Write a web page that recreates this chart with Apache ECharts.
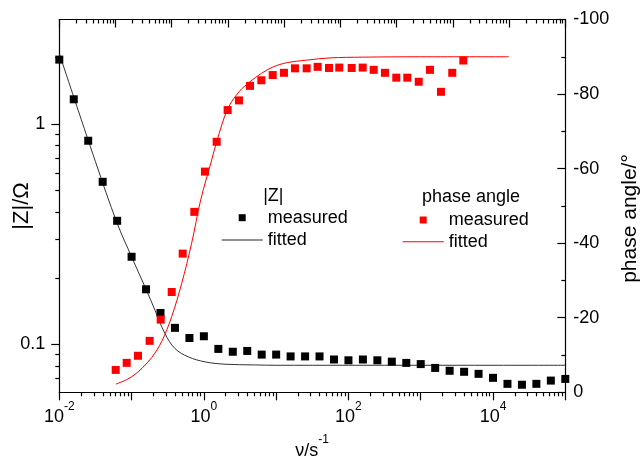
<!DOCTYPE html>
<html>
<head>
<meta charset="utf-8">
<script src="https://cdn.jsdelivr.net/npm/echarts@6/dist/echarts.min.js"></script>
<style>
  html, body { margin: 0; padding: 0; background: #fff; }
  #chart { width: 644px; height: 459px; }
</style>
</head>
<body>
<div id="chart"></div>
<script>
// Impedance magnitude |Z| (Ω) versus frequency ν (s^-1)
const freqZ = [0.01, 0.01585, 0.02512, 0.03981, 0.0631, 0.1, 0.1585, 0.2512, 0.3981, 0.631,
  1, 1.585, 2.512, 3.981, 6.31, 10, 15.85, 25.12, 39.81, 63.1,
  100, 158.5, 251.2, 398.1, 631, 1000, 1585, 2512, 3981, 6310,
  10000, 15850, 25120, 39810, 63100, 100000];
const zMeasured = [1.96, 1.295, 0.84, 0.547, 0.364, 0.25, 0.178, 0.139, 0.119, 0.107,
  0.109, 0.0955, 0.0927, 0.0935, 0.090, 0.090, 0.0883, 0.0883, 0.0883, 0.0855,
  0.0848, 0.0855, 0.0848, 0.0836, 0.0825, 0.0815, 0.0783, 0.076, 0.0752, 0.0736,
  0.0706, 0.0663, 0.0657, 0.0663, 0.0686, 0.0698];

const freqZFit = [0.01, 0.0316, 0.0631, 0.1, 0.1585, 0.211, 0.29, 0.398, 0.608, 1.04, 1.96, 5.0, 10, 100, 1000, 10000, 100000];
const zFitted = [2.09, 0.676, 0.355, 0.25, 0.178, 0.143, 0.112, 0.0959, 0.0879, 0.0834, 0.0814, 0.0808, 0.0805, 0.0805, 0.0805, 0.0805, 0.0805];

// Phase angle (°) versus frequency
const freqPhase = [0.0603, 0.0855, 0.1227, 0.1778, 0.2529, 0.3589, 0.5093, 0.7379, 1.035, 1.503,
  2.133, 3.062, 4.345, 6.237, 8.954, 12.82, 18.20, 26.42, 37.50, 53.83,
  74.65, 110.9, 157.4, 223.4, 319.9, 459.2, 651.6, 937.6, 1343, 1905,
  2729, 3882];
const phaseMeasured = [-6.0, -7.9, -9.8, -13.8, -19.5, -26.9, -37.2, -48.4, -59.2, -67.2,
  -75.7, -78.3, -82.2, -83.7, -85.1, -85.7, -86.9, -86.9, -87.3, -87.0,
  -87.1, -87.0, -87.1, -86.5, -85.7, -84.4, -84.4, -83.3, -86.5, -80.6,
  -85.7, -89.0];

const freqPhaseFit = [0.0608, 0.0855, 0.1114, 0.1413, 0.1897, 0.2606, 0.3589, 0.4932, 0.6776, 0.9036,
  1.282, 1.503, 2.133, 3.062, 4.345, 6.31, 9.12, 14.0, 26.4, 55.6, 158.5, 1000, 16480];
const phaseFitted = [-2.2, -3.4, -4.8, -6.6, -9.3, -13.6, -20.3, -29.2, -40.0, -51.6,
  -62.3, -67.2, -76.0, -80.6, -83.3, -85.6, -87.3, -88.4, -89.1, -89.7, -89.9, -90.0, -90.0];

// Axis ranges and labelled ticks
const freqMin = 0.01, freqMax = 100000;
const topMin = 0.0001, topMax = 100000;
const zMin = 0.0607, zMax = 2.98;
const freqLabelValues = [0.01, 1, 100, 10000];
const zLabelValues = [0.1, 1];

const FONT = 'Liberation Sans, Arial, sans-serif';

function decadeTicks(lo, hi) {
  const out = [];
  for (let v = lo; v <= hi * 1.0001; v *= 10) out.push(Number(v.toPrecision(6)));
  return out;
}
function minorTicksRange(vmin, vmax) {
  const out = [];
  const e0 = Math.floor(Math.log10(vmin) + 1e-9), e1 = Math.ceil(Math.log10(vmax) - 1e-9);
  for (let e = e0; e < e1; e++) {
    for (let m = 2; m <= 9; m++) {
      const v = Number((m * Math.pow(10, e)).toPrecision(6));
      if (v > vmin && v < vmax) out.push(v);
    }
  }
  return out;
}

function pairs(xs, ys) { return xs.map((x, i) => [x, ys[i]]); }

const axisLineStyle = { color: '#000', width: 1.2 };
const tickStyle = { color: '#000', width: 1.2 };
const hiddenLabel = { show: false };
const squareIcon = 'path://M0,0H10V10H0Z';
const lineIcon = 'path://M0,0H41V1H0Z';

const chart = echarts.init(document.getElementById('chart'), null, { renderer: 'canvas' });

chart.setOption({
  animation: false,
  backgroundColor: '#fff',
  textStyle: { fontFamily: FONT },
  grid: { left: 59.3, right: 78.7, top: 19.5, bottom: 66.7, containLabel: false, outerBoundsMode: 'none' },
  xAxis: [
    { // bottom axis: frame line, decade ticks and labels
      type: 'log', logBase: 10, position: 'bottom', min: freqMin, max: freqMax,
      axisLine: { show: true, lineStyle: axisLineStyle },
      axisTick: { show: true, inside: false, length: 8, lineStyle: tickStyle,
        customValues: decadeTicks(freqMin, freqMax) },
      axisLabel: {
        show: true, margin: 8, customValues: freqLabelValues, color: '#000',
        formatter: v => '{b|10}{s|' + Math.round(Math.log10(v)) + '}',
        rich: {
          b: { fontSize: 18, fontFamily: FONT, color: '#000', lineHeight: 26, verticalAlign: 'bottom' },
          s: { fontSize: 12, fontFamily: FONT, color: '#000', lineHeight: 14, verticalAlign: 'top' }
        }
      },
      splitLine: { show: false }
    },
    { // bottom axis minor ticks
      type: 'log', logBase: 10, position: 'bottom', min: freqMin, max: freqMax,
      axisLine: { show: false },
      axisTick: { show: true, inside: false, length: 4, lineStyle: tickStyle,
        customValues: minorTicksRange(freqMin, freqMax) },
      axisLabel: hiddenLabel, splitLine: { show: false }
    },
    { // top frame axis
      type: 'log', logBase: 10, position: 'top', min: topMin, max: topMax,
      axisLine: { show: true, lineStyle: axisLineStyle },
      axisTick: { show: true, inside: true, length: 8, lineStyle: tickStyle,
        customValues: decadeTicks(topMin, topMax) },
      axisLabel: hiddenLabel, splitLine: { show: false }
    },
    { // top frame minor ticks
      type: 'log', logBase: 10, position: 'top', min: topMin, max: topMax,
      axisLine: { show: false },
      axisTick: { show: true, inside: true, length: 4, lineStyle: tickStyle,
        customValues: minorTicksRange(topMin, topMax) },
      axisLabel: hiddenLabel, splitLine: { show: false }
    }
  ],
  yAxis: [
    { // |Z| axis
      type: 'log', logBase: 10, position: 'left', min: zMin, max: zMax,
      axisLine: { show: true, lineStyle: axisLineStyle },
      axisTick: { show: true, inside: false, length: 8, lineStyle: tickStyle,
        customValues: zLabelValues },
      axisLabel: { show: true, margin: 14, customValues: zLabelValues, color: '#000', fontSize: 18,
        fontFamily: FONT, formatter: v => String(v) },
      splitLine: { show: false }
    },
    { // phase angle axis
      type: 'value', position: 'right', min: -100, max: 0, interval: 20, inverse: true,
      axisLine: { show: true, lineStyle: axisLineStyle },
      axisTick: { show: true, inside: true, length: 8, lineStyle: tickStyle },
      minorTick: { show: true, splitNumber: 2, length: 4, lineStyle: tickStyle },
      axisLabel: { show: true, margin: 8, color: '#000', fontSize: 18, fontFamily: FONT },
      splitLine: { show: false }, minorSplitLine: { show: false }
    },
    { // |Z| axis minor ticks
      type: 'log', logBase: 10, position: 'left', min: zMin, max: zMax,
      axisLine: { show: false },
      axisTick: { show: true, inside: false, length: 4, lineStyle: tickStyle,
        customValues: minorTicksRange(zMin, zMax) },
      axisLabel: hiddenLabel, splitLine: { show: false }
    }
  ],
  legend: [
    {
      orient: 'vertical', left: 221.7, top: 208.7, padding: 0, itemWidth: 41, itemHeight: 7, itemGap: 4.3,
      selectedMode: false, textStyle: { fontSize: 18, color: '#000', fontFamily: FONT },
      formatter: name => name.split(' ')[1],
      data: [
        { name: 'Z measured', icon: squareIcon },
        { name: 'Z fitted', icon: lineIcon }
      ]
    },
    {
      orient: 'vertical', left: 402.7, top: 211, padding: 0, itemWidth: 41, itemHeight: 7, itemGap: 3.7,
      selectedMode: false, textStyle: { fontSize: 18, color: '#000', fontFamily: FONT },
      formatter: name => name.split(' ')[1],
      data: [
        { name: 'phase measured', icon: squareIcon },
        { name: 'phase fitted', icon: lineIcon }
      ]
    }
  ],
  graphic: [
    { type: 'text', x: 22.4, y: 206, rotation: Math.PI / 2,
      style: { text: '|Z|/Ω', fontSize: 22, fontFamily: FONT, fill: '#000', align: 'center', verticalAlign: 'middle' } },
    { type: 'text', x: 630, y: 218.5, rotation: Math.PI / 2,
      style: { text: 'phase angle/°', fontSize: 21, fontFamily: FONT, fill: '#000', align: 'center', verticalAlign: 'middle' } },
    { type: 'text', x: 312, y: 447,
      style: { text: '{a|ν/s}{s|-1}', align: 'center', verticalAlign: 'middle', fill: '#000',
        rich: {
          a: { fontSize: 18, fontFamily: FONT, fill: '#000', lineHeight: 26, verticalAlign: 'bottom' },
          s: { fontSize: 12, fontFamily: FONT, fill: '#000', lineHeight: 14, verticalAlign: 'top' }
        } } },
    { type: 'text', x: 273.3, y: 196,
      style: { text: '|Z|', fontSize: 18, fontFamily: FONT, fill: '#000', align: 'center', verticalAlign: 'middle' } },
    { type: 'text', x: 422, y: 197.5,
      style: { text: 'phase angle', fontSize: 18, fontFamily: FONT, fill: '#000', align: 'left', verticalAlign: 'middle' } }
  ],
  series: [
    {
      name: 'Z fitted', type: 'line', xAxisIndex: 0, yAxisIndex: 0,
      data: pairs(freqZFit, zFitted), smooth: 0.35, symbol: 'none',
      lineStyle: { color: '#333', width: 1 }, itemStyle: { color: '#222' }, z: 2
    },
    {
      name: 'phase fitted', type: 'line', xAxisIndex: 0, yAxisIndex: 1,
      data: pairs(freqPhaseFit, phaseFitted), smooth: 0.35, symbol: 'none',
      lineStyle: { color: '#ff0000', width: 1 }, itemStyle: { color: '#ff0000' }, z: 2
    },
    {
      name: 'Z measured', type: 'scatter', xAxisIndex: 0, yAxisIndex: 0,
      data: pairs(freqZ, zMeasured), symbol: 'rect', symbolSize: 8,
      itemStyle: { color: '#000', opacity: 1 }, z: 3
    },
    {
      name: 'phase measured', type: 'scatter', xAxisIndex: 0, yAxisIndex: 1,
      data: pairs(freqPhase, phaseMeasured), symbol: 'rect', symbolSize: 8,
      itemStyle: { color: '#ff0000', opacity: 1 }, z: 3
    }
  ]
});
</script>
</body>
</html>
